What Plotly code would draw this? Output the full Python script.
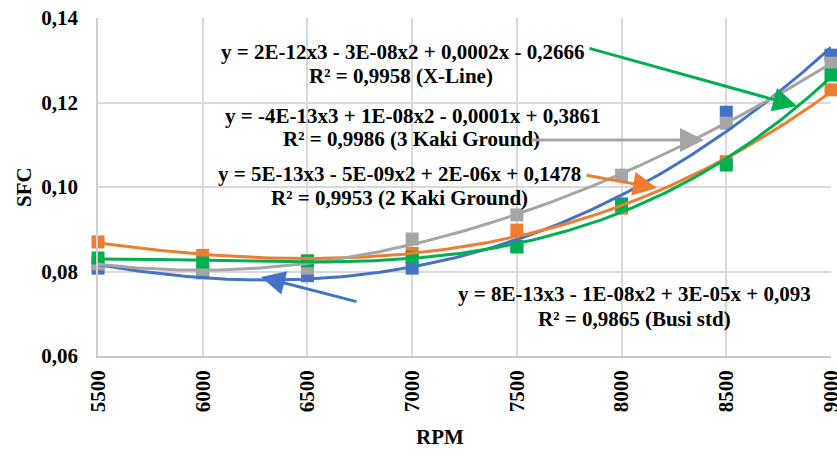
import numpy as np
import plotly.graph_objects as go

# RPM sweep and measured specific fuel consumption
rpm = [5500, 6000, 6500, 7000, 7500, 8000, 8500, 9000]
rpm_labels = ["5500", "6000", "6500", "7000", "7500", "8000", "8500", "9000"]

sfc_busi_std = [0.0808, 0.0797, 0.0790, 0.0808, 0.0860, 0.0960, 0.1177, 0.1312]
sfc_2_kaki = [0.0870, 0.0838, 0.0825, 0.0843, 0.0898, 0.0950, 0.1060, 0.1230]
sfc_3_kaki = [0.0818, 0.0805, 0.0808, 0.0877, 0.0934, 0.1028, 0.1151, 0.1293]
sfc_x_line = [0.0832, 0.0820, 0.0825, 0.0834, 0.0858, 0.0957, 0.1052, 0.1265]

series = [
    ("Busi std", sfc_busi_std, "#4472C4"),
    ("2 Kaki Ground", sfc_2_kaki, "#ED7D31"),
    ("3 Kaki Ground", sfc_3_kaki, "#A5A5A5"),
    ("X-Line", sfc_x_line, "#00B050"),
]

# Trendline equation labels
eq_x_line = ["y = 2E-12x3 - 3E-08x2 + 0,0002x - 0,2666", "R² = 0,9958 (X-Line)"]
eq_3_kaki = ["y = -4E-13x3 + 1E-08x2 - 0,0001x + 0,3861", "R² = 0,9986 (3 Kaki Ground)"]
eq_2_kaki = ["y = 5E-13x3 - 5E-09x2 + 2E-06x + 0,1478", "R² = 0,9953 (2 Kaki Ground)"]
eq_busi = ["y = 8E-13x3 - 1E-08x2 + 3E-05x + 0,093", "R² = 0,9865 (Busi std)"]

FONT = "Liberation Serif"
W, H = 837, 454
L, R, T, B = 98, 6, 18, 98
PW, PH = W - L - R, H - T - B


def paper(xp, yp):
    """Pixel position in the page -> paper coordinates."""
    return (xp - L) / PW, (H - B - yp) / PH


fig = go.Figure()

# markers first, polynomial (order 3) trendlines on top
for name, vals, color in series:
    fig.add_trace(go.Scatter(
        x=rpm, y=vals, mode="markers", name=name,
        marker=dict(symbol="square", size=13, color=color),
        cliponaxis=False, showlegend=False,
    ))

xs = np.linspace(rpm[0], rpm[-1], 200)
for name, vals, color in series:
    coef = np.polyfit(np.array(rpm) / 1000.0, vals, 3)
    fig.add_trace(go.Scatter(
        x=xs, y=np.polyval(coef, xs / 1000.0), mode="lines",
        line=dict(color=color, width=3), showlegend=False,
        hoverinfo="skip",
    ))

annotations = []


def label(text, xp, yp):
    x, y = paper(xp, yp)
    annotations.append(dict(
        text=text, x=x, y=y, xref="paper", yref="paper",
        xanchor="center", yanchor="middle", showarrow=False,
        font=dict(family=FONT, size=21, color="black", weight="bold"),
    ))


label(eq_x_line[0], 402, 52)
label(eq_x_line[1], 401, 76)
label(eq_3_kaki[0], 412, 116)
label(eq_3_kaki[1], 411, 139)
label(eq_2_kaki[0], 399, 174)
label(eq_2_kaki[1], 399, 198)
label(eq_busi[0], 634, 294)
label(eq_busi[1], 634, 319)


def arrow(tail, head, color):
    x, y = paper(*head)
    annotations.append(dict(
        text="", x=x, y=y, xref="paper", yref="paper",
        ax=tail[0] - head[0], ay=tail[1] - head[1], axref="pixel", ayref="pixel",
        showarrow=True, arrowhead=2, arrowsize=1.6, arrowwidth=3,
        arrowcolor=color, standoff=0, startstandoff=0,
    ))


arrow((588, 48), (797, 106), "#00B050")
arrow((530, 140), (704, 140), "#A5A5A5")
arrow((585, 175), (657, 188), "#ED7D31")
arrow((358, 302), (261, 277), "#4472C4")

# axis titles
x, y = paper(440, 437)
annotations.append(dict(text="RPM", x=x, y=y, xref="paper", yref="paper",
                        showarrow=False, xanchor="center", yanchor="middle",
                        font=dict(family=FONT, size=21, color="black", weight="bold")))
x, y = paper(24, 187)
annotations.append(dict(text="SFC", x=x, y=y, xref="paper", yref="paper",
                        showarrow=False, xanchor="center", yanchor="middle", textangle=-90,
                        font=dict(family=FONT, size=21, color="black", weight="bold")))

fig.update_layout(
    width=W, height=H, autosize=False,
    margin=dict(l=L, r=R, t=T, b=B),
    paper_bgcolor="white", plot_bgcolor="white",
    separators=",.",
    annotations=annotations,
    showlegend=False,
)

fig.update_xaxes(
    range=[rpm[0], rpm[-1]], tickvals=rpm, ticktext=rpm_labels,
    tickangle=-90, ticks="", ticklabelstandoff=4, ticklabeloverflow="allow",
    tickfont=dict(family=FONT, size=21, color="black", weight="bold"),
    showgrid=True, gridcolor="#d9d9d9", gridwidth=1.5,
    showline=True, linecolor="#c8c8c8", linewidth=1.5,
    zeroline=False, automargin=False,
)
fig.update_yaxes(
    range=[0.06, 0.14], dtick=0.02, tick0=0.06, tickformat=".2f",
    ticks="", ticklabelstandoff=14,
    tickfont=dict(family=FONT, size=21, color="black", weight="bold"),
    showgrid=True, gridcolor="#d9d9d9", gridwidth=1.5,
    showline=True, linecolor="#d0d0d0", linewidth=1.5,
    zeroline=False, automargin=False,
)

fig.write_html("out.html")
